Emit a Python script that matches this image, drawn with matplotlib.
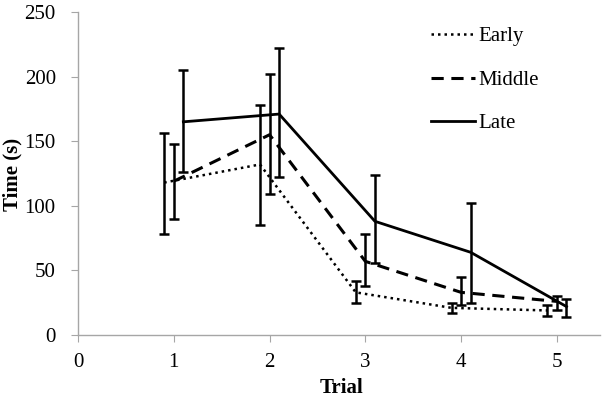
import matplotlib
matplotlib.use("Agg")
import matplotlib.pyplot as plt
import numpy as np

trials = [1, 2, 3, 4, 5]
early = [118, 132, 33, 21, 19]
early_lo = [78, 85, 25, 17, 15]
early_hi = [156, 178, 42, 25, 23]
middle = [119, 155, 57, 33, 26]
middle_lo = [90, 109, 38, 23, 19]
middle_hi = [148, 202, 78, 45, 30]
late = [165, 171, 88, 64, 22]
late_lo = [126, 122, 56, 25, 14]
late_hi = [205, 222, 124, 102, 28]

x_ticks = [0, 1, 2, 3, 4, 5]
y_ticks = [0, 50, 100, 150, 200, 250]

plt.rcParams['font.family'] = ['Liberation Serif', 'DejaVu Serif']

fig = plt.figure(figsize=(6.10, 4.00), dpi=100)
L, R, T, B = 78, 600, 12, 335
ax = fig.add_axes([L/610, 1-B/400, (R-L)/610, (B-T)/400])

series = [
    ("Early", early, early_lo, early_hi, -0.1, (0, (1, 1.6)), 1.8),
    ("Middle", middle, middle_lo, middle_hi, 0.0, (0, (4, 2.5)), 2.2),
    ("Late", late, late_lo, late_hi, 0.1, '-', 2.0),
]
for name, vals, lo, hi, off, ls, lw in series:
    xs = np.array(trials) + off
    v = np.array(vals)
    yerr = np.vstack([v - np.array(lo), np.array(hi) - v])
    ax.plot(xs, v, color='black', linestyle=ls, linewidth=lw, label=name)
    ax.errorbar(xs, v, yerr=yerr, fmt='none', ecolor='black', elinewidth=1.8,
                capsize=3.5, capthick=1.8)

ax.set_xlim(0, 5.45)
ax.set_ylim(0, 250)
ax.set_xticks(x_ticks)
ax.set_yticks(y_ticks)
for s in ['top', 'right']:
    ax.spines[s].set_visible(False)
for s in ['left', 'bottom']:
    ax.spines[s].set_color('#a6a6a6')
    ax.spines[s].set_linewidth(1.0)
ax.tick_params(axis='both', colors='#a6a6a6', labelcolor='black', labelsize=15,
               direction='out', length=5)
ax.tick_params(axis='y', pad=11)
ax.tick_params(axis='x', pad=8)
ax.set_xlabel('Trial', fontsize=15, fontweight='bold', va='center')
ax.set_ylabel('Time (s)', fontsize=15, fontweight='bold', va='center')
ax.xaxis.set_label_coords((341 - L) / (R - L), -(388 - B) / (B - T))
ax.yaxis.set_label_coords(-(L - 12) / (R - L), (B - 174) / (B - T))

leg = fig.legend(*ax.get_legend_handles_labels(), loc='upper left',
                 bbox_to_anchor=(412/610, 1-8/400), frameon=False,
                 fontsize=15, handlelength=2.1, handletextpad=0.2,
                 labelspacing=1.15)

fig.savefig('out.png', dpi=100)
